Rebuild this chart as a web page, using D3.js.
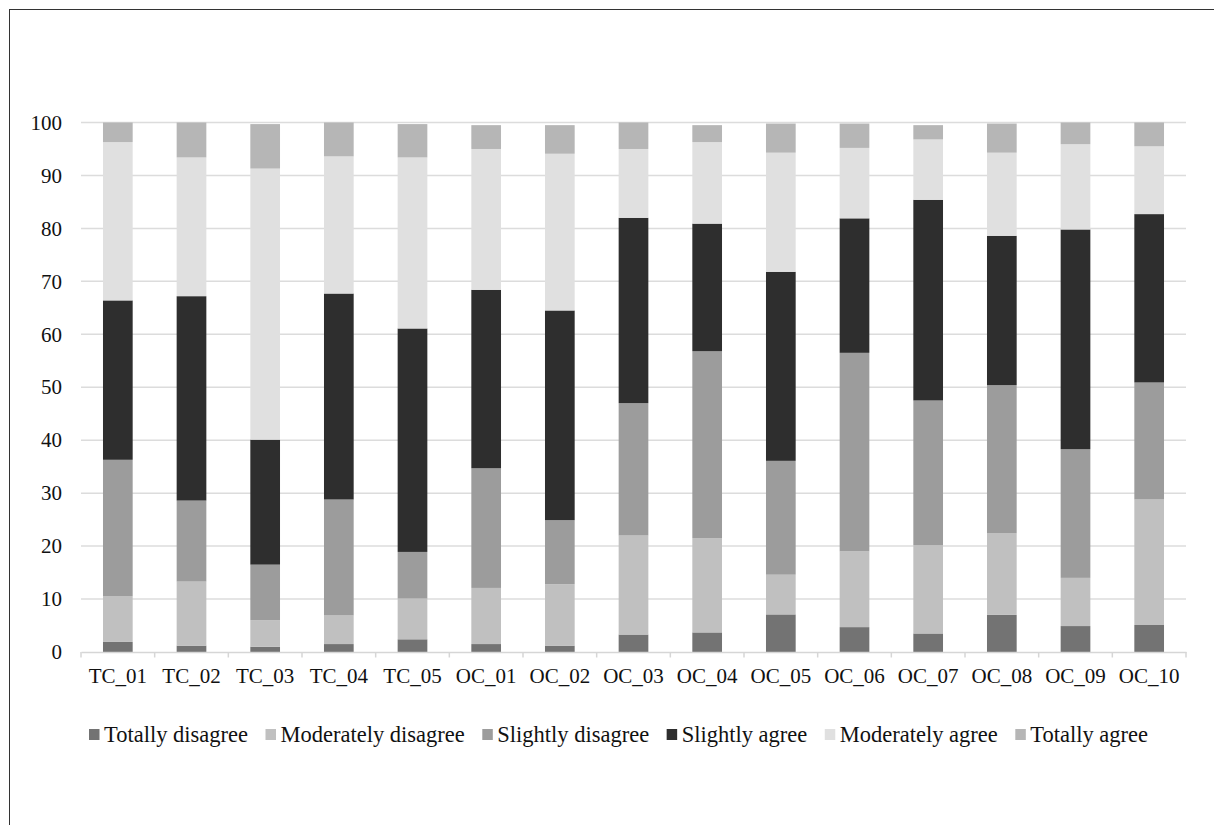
<!DOCTYPE html>
<html>
<head>
<meta charset="utf-8">
<script src="https://cdn.jsdelivr.net/npm/d3@7"></script>
<style>
  html, body { margin: 0; padding: 0; background: #fff; }
  svg { display: block; font-family: "Liberation Serif", "Times New Roman", serif; }
</style>
</head>
<body>
<svg id="chart" width="1214" height="825"></svg>
<script>
const categories = ["TC_01","TC_02","TC_03","TC_04","TC_05","OC_01","OC_02","OC_03","OC_04","OC_05","OC_06","OC_07","OC_08","OC_09","OC_10"];
const seriesNames = ["Totally disagree","Moderately disagree","Slightly disagree","Slightly agree","Moderately agree","Totally agree"];
const totallyDisagree    = [1.9, 1.2, 1.0, 1.5, 2.4, 1.5, 1.2, 3.3, 3.7, 7.1, 4.7, 3.5, 7.0, 4.9, 5.1];
const moderatelyDisagree = [8.6, 12.1, 5.0, 5.4, 7.7, 10.6, 11.6, 18.7, 17.8, 7.5, 14.3, 16.7, 15.4, 9.1, 23.7];
const slightlyDisagree   = [25.8, 15.3, 10.5, 21.9, 8.8, 22.6, 12.1, 25.0, 35.3, 21.5, 37.5, 27.3, 28.0, 24.3, 22.1];
const slightlyAgree      = [30.1, 38.6, 23.6, 38.9, 42.2, 33.7, 39.6, 35.0, 24.1, 35.7, 25.4, 37.9, 28.2, 41.5, 31.8];
const moderatelyAgree    = [29.9, 26.2, 51.2, 25.9, 32.3, 26.6, 29.6, 13.0, 15.4, 22.5, 13.3, 11.4, 15.7, 16.1, 12.8];
const totallyAgree       = [3.7, 6.6, 8.4, 6.4, 6.3, 4.5, 5.4, 5.0, 3.2, 5.5, 4.6, 2.7, 5.5, 4.1, 4.5];
const yTicks = [0,10,20,30,40,50,60,70,80,90,100];
const colors = ["#737373","#c0c0c0","#9c9c9c","#2e2e2e","#e0e0e0","#b6b6b6"];

(function () {
const seriesValues = [totallyDisagree, moderatelyDisagree, slightlyDisagree, slightlyAgree, moderatelyAgree, totallyAgree];
const rows = categories.map((c, i) => {
  const r = { cat: c };
  seriesNames.forEach((s, j) => r[s] = seriesValues[j][i]);
  return r;
});
const stacked = d3.stack().keys(seriesNames)(rows);

const svg = d3.select("#chart");
const pLeft = 81, pRight = 1186, pTop = 122.5, pBottom = 652;

// frame
svg.append("rect").attr("x", 9.5).attr("y", 9.5).attr("width", 1400).attr("height", 1000)
  .attr("fill", "none").attr("stroke", "#333").attr("stroke-width", 1);

const x = d3.scaleBand().domain(categories).range([pLeft, pRight]).paddingInner(0.597).paddingOuter(0.2985);
const y = d3.scaleLinear().domain([0, 100]).range([pBottom, pTop]);

// gridlines
svg.append("g").selectAll("line").data(yTicks.filter(t => t > 0)).join("line")
  .attr("x1", pLeft).attr("x2", pRight)
  .attr("y1", d => y(d)).attr("y2", d => y(d))
  .attr("stroke", "#dcdcdc").attr("stroke-width", 1.5);

// y labels
const yAxis = d3.axisLeft(y).tickValues(yTicks).tickSize(0).tickPadding(19);
const yg = svg.append("g").attr("transform", `translate(${pLeft},0)`).call(yAxis);
yg.select(".domain").remove();
yg.selectAll("text").attr("font-size", 21).attr("fill", "#111").attr("font-family", "Liberation Serif");

// bars
svg.append("g").selectAll("g").data(stacked).join("g")
  .attr("fill", (d, i) => colors[i])
  .selectAll("rect").data(d => d).join("rect")
  .attr("x", d => x(d.data.cat))
  .attr("width", x.bandwidth())
  .attr("y", d => y(d[1]))
  .attr("height", d => y(d[0]) - y(d[1]));

// x axis
const xAxis = d3.axisBottom(x).tickSize(0).tickPadding(16);
const xg = svg.append("g").attr("transform", `translate(0,${pBottom})`).call(xAxis);
xg.select(".domain").attr("stroke", "#d6d6d6").attr("stroke-width", 1.5);
xg.selectAll("text").attr("font-size", 21).attr("fill", "#111").attr("font-family", "Liberation Serif");
// category boundary ticks
const step = x.step();
const bounds = d3.range(categories.length + 1).map(i => pLeft + i * step);
svg.append("g").selectAll("line").data(bounds).join("line")
  .attr("x1", d => d).attr("x2", d => d)
  .attr("y1", pBottom).attr("y2", pBottom + 5.5)
  .attr("stroke", "#d6d6d6").attr("stroke-width", 1.5);

// legend
const legend = svg.append("g");
let lx = 89;
const ly = 742;
seriesNames.forEach((s, i) => {
  const g = legend.append("g");
  g.append("rect").attr("x", lx).attr("y", ly - 13).attr("width", 10.5).attr("height", 11).attr("fill", colors[i]);
  const t = g.append("text").attr("x", lx + 15).attr("y", ly).attr("font-size", 22.5).attr("fill", "#111")
    .attr("font-family", "Liberation Serif").text(s);
  const w = t.node().getComputedTextLength();
  lx = lx + 15 + w + 17.5;
});
})();
</script>
</body>
</html>
